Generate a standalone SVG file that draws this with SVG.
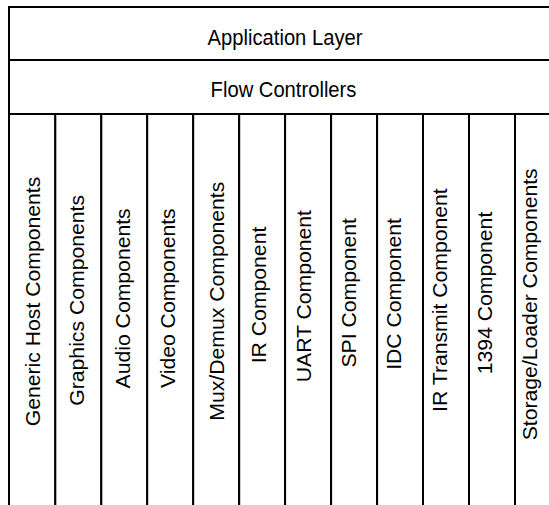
<svg xmlns="http://www.w3.org/2000/svg" width="549" height="505" viewBox="0 0 549 505">
  <style>
    .box { fill: #ffffff; stroke: #000000; stroke-width: 2; }
    .lbl { font-family: "Liberation Sans", Arial, sans-serif; font-size: 21.2px; fill: #000000; }
    .mid { text-anchor: middle; }
    .up { text-anchor: end; }
  </style>
  <rect x="0" y="0" width="549" height="505" fill="#ffffff"/>

  <!-- Top rows: boxes run past the right and bottom edges of the canvas -->
  <g id="application-layer">
    <rect class="box" x="9" y="7" width="553" height="53"/>
    <text class="lbl mid" transform="translate(285,45) scale(0.953,1)">Application Layer</text>
  </g>
  <g id="flow-controllers">
    <rect class="box" x="9" y="60" width="553" height="54"/>
    <text class="lbl mid" transform="translate(283.5,96.7) scale(0.953,1)">Flow Controllers</text>
  </g>

  <!-- Component columns; labels read bottom-to-top, anchored at their top end -->
  <g id="generic-host">
    <rect class="box" x="9" y="114" width="46.3" height="420"/>
    <text class="lbl up" transform="translate(33,176.7) scale(0.953,1) rotate(-90)" y="7.6">Generic Host Components</text>
  </g>
  <g id="graphics">
    <rect class="box" x="55.3" y="114" width="46" height="420"/>
    <text class="lbl up" transform="translate(76.7,195) scale(0.953,1) rotate(-90)" y="7.6">Graphics Components</text>
  </g>
  <g id="audio">
    <rect class="box" x="101.3" y="114" width="45.9" height="420"/>
    <text class="lbl up" transform="translate(123,208.3) scale(0.953,1) rotate(-90)" y="7.6">Audio Components</text>
  </g>
  <g id="video">
    <rect class="box" x="147.2" y="114" width="46" height="420"/>
    <text class="lbl up" transform="translate(168,208.3) scale(0.953,1) rotate(-90)" y="7.6">Video Components</text>
  </g>
  <g id="mux-demux">
    <rect class="box" x="193.2" y="114" width="46" height="420"/>
    <text class="lbl up" transform="translate(217,181.7) scale(0.953,1) rotate(-90)" y="7.6">Mux/Demux Components</text>
  </g>
  <g id="ir">
    <rect class="box" x="239.2" y="114" width="45.9" height="420"/>
    <text class="lbl up" transform="translate(258.5,226.7) scale(0.953,1) rotate(-90)" y="7.6">IR Component</text>
  </g>
  <g id="uart">
    <rect class="box" x="285.1" y="114" width="46" height="420"/>
    <text class="lbl up" transform="translate(303.5,210) scale(0.953,1) rotate(-90)" y="7.6">UART Component</text>
  </g>
  <g id="spi">
    <rect class="box" x="331.1" y="114" width="46" height="420"/>
    <text class="lbl up" transform="translate(348.5,218) scale(0.953,1) rotate(-90)" y="7.6">SPI Component</text>
  </g>
  <g id="idc">
    <rect class="box" x="377.1" y="114" width="45.9" height="420"/>
    <text class="lbl up" transform="translate(393.5,218) scale(0.953,1) rotate(-90)" y="7.6">IDC Component</text>
  </g>
  <g id="ir-transmit">
    <rect class="box" x="423" y="114" width="46" height="420"/>
    <text class="lbl up" transform="translate(440,188.3) scale(0.953,1) rotate(-90)" y="7.6">IR Transmit Component</text>
  </g>
  <g id="ieee1394">
    <rect class="box" x="469" y="114" width="46" height="420"/>
    <text class="lbl up" transform="translate(485,211.7) scale(0.953,1) rotate(-90)" y="7.6">1394 Component</text>
  </g>
  <g id="storage-loader">
    <rect class="box" x="515" y="114" width="47" height="420"/>
    <text class="lbl up" transform="translate(530,168.3) scale(0.953,1) rotate(-90)" y="7.6">Storage/Loader Components</text>
  </g>

  <!-- No connectors in this stack diagram -->
  <g id="connectors"/>
</svg>
